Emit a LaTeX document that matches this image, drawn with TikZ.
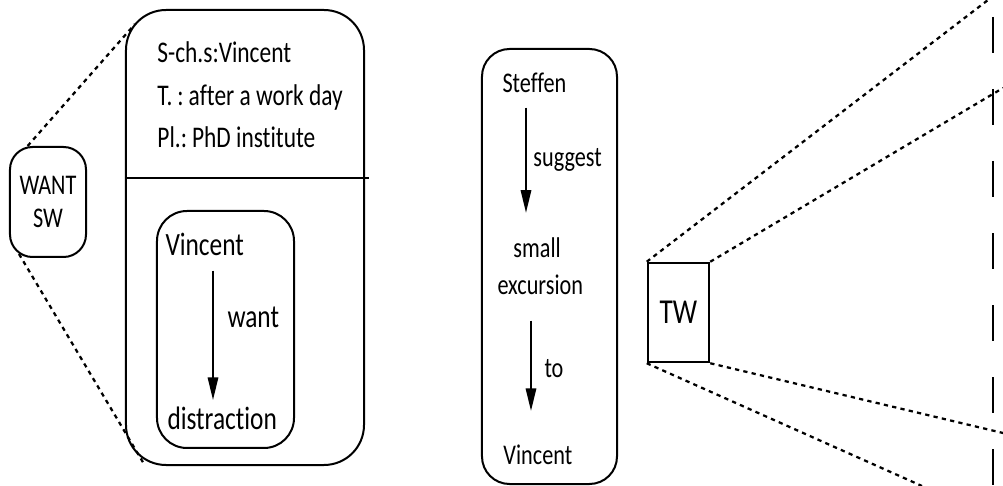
\documentclass[tikz,border=0pt]{standalone}
\usepackage{fontspec}
\setmainfont[FakeStretch=0.78,Ligatures=NoCommon]{Carlito}
\usetikzlibrary{arrows.meta,calc}

\begin{document}
\begin{tikzpicture}[x=0.4pt,y=-0.4pt,
  box/.style={draw,line width=0.8pt,inner sep=0pt},
  txt/.style={inner sep=0pt,anchor=base west},
  hdr/.style={txt,font=\fontsize{12}{14}\selectfont},
  big/.style={txt,font=\fontsize{13}{15}\selectfont},
  mid/.style={txt,font=\fontsize{11.4}{13}\selectfont},
  zoomline/.style={line width=0.9pt,dash pattern=on 1.7pt off 1.7pt},
  down/.style={line width=0.6pt,-{Triangle[length=9pt,width=4.2pt]}}]
\useasboundingbox (0,0) rectangle (1003,486);

% small frame and its blown-up version
\node[box,rounded corners=9pt,minimum width=30.4pt,minimum height=44pt,
  align=center,font=\fontsize{11.4}{13.2}\selectfont] (want) at (48,202) {WANT\\SW};
\node[box,rounded corners=16pt,minimum width=95.2pt,minimum height=182pt] (frame) at (245,237.5) {};
\coordinate (cut) at (0,178);
\draw[line width=0.8pt] (frame.west |- cut) -- ($(frame.east |- cut)+(4,0)$);
\node[hdr] (sch) at (157,63) {S-ch.s:Vincent};
\node[hdr] (time) at (157,106) {T.\,:\,after a work day};
\node[hdr] (place) at (157,148) {Pl.:\,PhD institute};

\node[box,rounded corners=12pt,minimum width=54.8pt,minimum height=94.8pt] (inner) at (225.5,329.5) {};
\node[big] (agent) at (165,256) {Vincent};
\node[big] (goal) at (167,430) {distraction};
\node[big] (verb) at (227,328) {want};
\coordinate (col1) at (213,0);
\draw[down,shorten <=5.6pt,shorten >=2.8pt] (agent.south -| col1) -- (goal.north -| col1);

\draw[zoomline] (want.110) -- ($(frame.north west)+(10,15)$);
\draw[zoomline] ($(want.south west)+(10,-4)$) -- ($(frame.south west)+(19,-2)$);

% the story column
\node[box,rounded corners=11pt,minimum width=54pt,minimum height=174pt] (story) at (549.5,266.5) {};
\node[mid] (steffen) at (502,93) {Steffen};
\node[mid] (suggest) at (533,167) {suggest};
\node[mid] (small) at (513,258) {small};
\node[mid] (excursion) at (497,295) {excursion};
\node[mid] (to) at (544,378) {to};
\node[mid] (vincent) at (503,465) {Vincent};
\coordinate (col2) at (526,0);
\coordinate (col3) at (531,0);
\draw[down,shorten <=5.6pt,shorten >=10pt] (steffen.south -| col2) -- (small.north -| col2);
\draw[down,shorten <=10pt,shorten >=13.6pt] (excursion.south -| col3) -- (vincent.north -| col3);

% TW and its zoom rays
\node[draw,line width=1pt,inner sep=0pt,minimum width=24.4pt,minimum height=39.6pt,
  font=\fontsize{14}{16}\selectfont] (tw) at (678.5,312.5) {TW};
\coordinate (r1) at (988,0);
\coordinate (r2) at (1003,88);
\coordinate (r3) at (1003,433);
\coordinate (r4) at (922,486);
\draw[zoomline] (tw.north west) -- (r1);
\draw[zoomline] (tw.north east) -- (r2);
\draw[zoomline] (tw.south east) -- (r3);
\draw[zoomline] (tw.south west) -- (r4);

\coordinate (edgetop) at (993,0);
\coordinate (edgebot) at (993,486);
\draw[line width=0.6pt,dash pattern=on 14.4pt off 14.4pt,dash phase=22pt] (edgetop) -- (edgebot);
\end{tikzpicture}
\end{document}
